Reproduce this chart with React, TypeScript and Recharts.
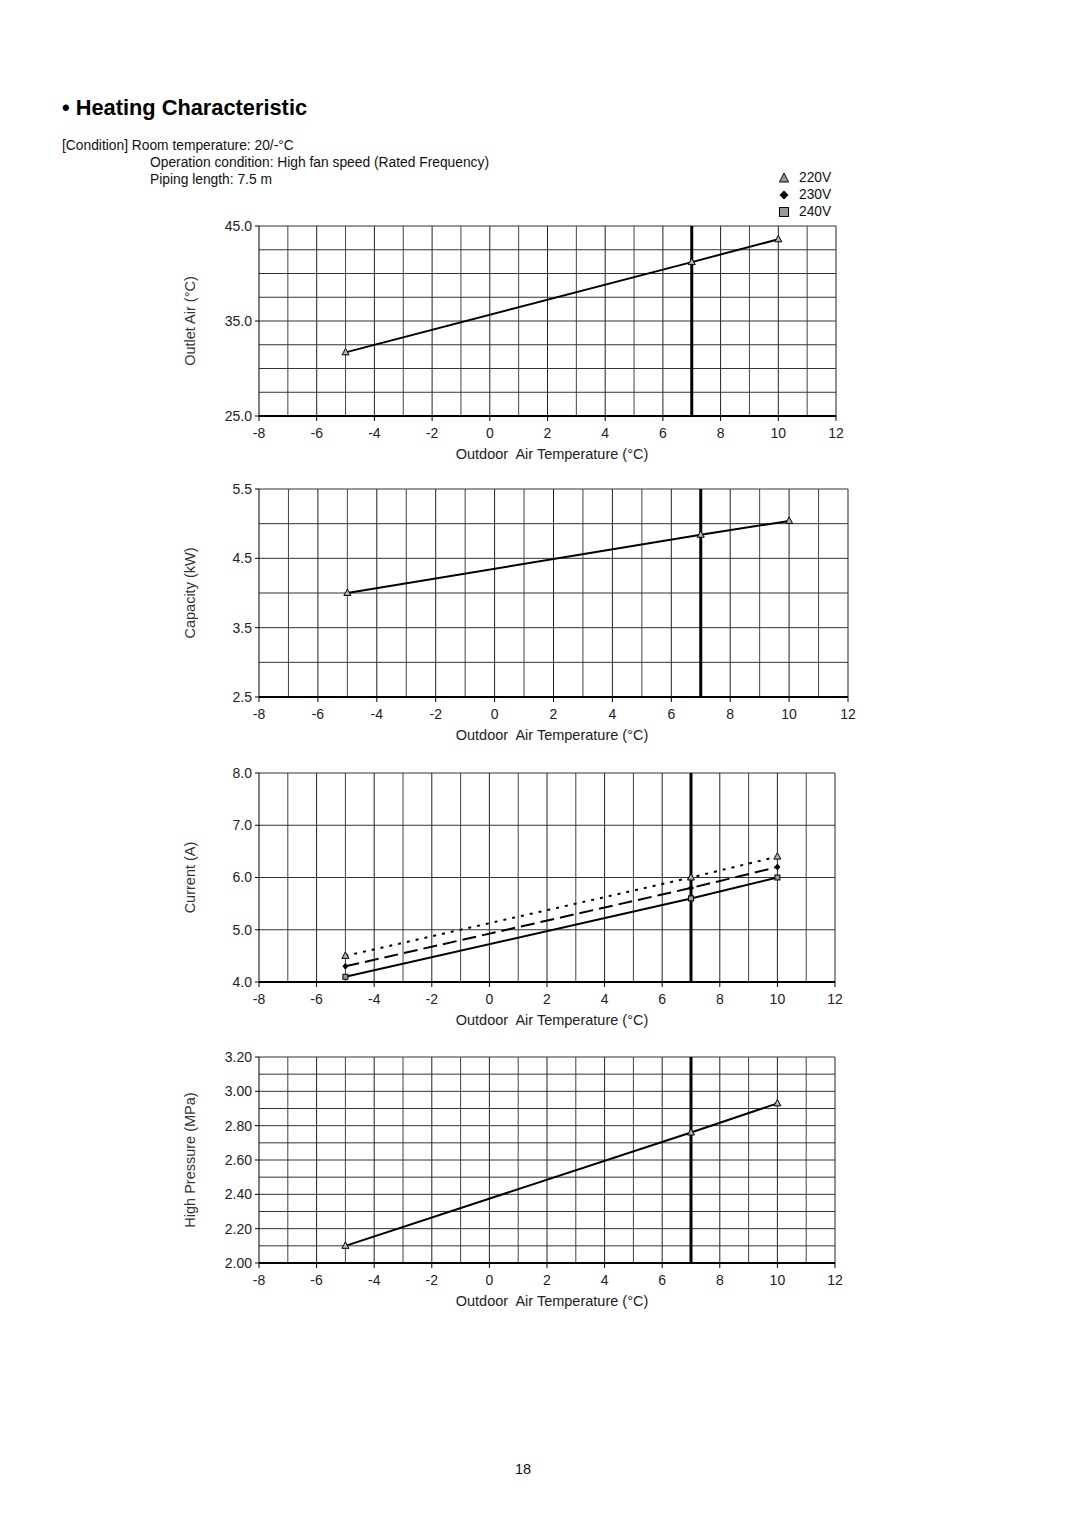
import { LineChart, Line, XAxis, YAxis, ReferenceLine } from 'recharts'

// outdoor air temperature (°C) of the measured points
const outdoorTemps = [-5, 7, 10]

// outlet air (°C)
const outletAir220 = [31.7, 41.2, 43.6]
// capacity (kW)
const capacity220 = [4.0, 4.84, 5.04]
// current (A)
const current220 = [4.5, 6.0, 6.4]
const current230 = [4.3, 5.8, 6.2]
const current240 = [4.1, 5.6, 6.0]
// high pressure (MPa)
const pressure220 = [2.1, 2.76, 2.93]

const xTicks = [-8, -6, -4, -2, 0, 2, 4, 6, 8, 10, 12]
const xGrid = [-7, -6, -5, -4, -3, -2, -1, 0, 1, 2, 3, 4, 5, 6, 8, 9, 10, 11, 12]

const outletTicks = [25, 35, 45]
const outletGrid = [27.5, 30, 32.5, 35, 37.5, 40, 42.5, 45]
const capacityTicks = [2.5, 3.5, 4.5, 5.5]
const capacityGrid = [3.0, 3.5, 4.0, 4.5, 5.0, 5.5]
const currentTicks = [4, 5, 6, 7, 8]
const currentGrid = [5, 6, 7, 8]
const pressureTicks = [2.0, 2.2, 2.4, 2.6, 2.8, 3.0, 3.2]
const pressureGrid = [2.1, 2.2, 2.3, 2.4, 2.5, 2.6, 2.7, 2.8, 2.9, 3.0, 3.1, 3.2]

const FONT = '"Liberation Sans", Arial, Helvetica, sans-serif'
const PLOT_LEFT = 259
const Y_AXIS_W = 80

const TriangleDot = (props: any) => {
  const { cx, cy } = props
  if (cx == null || cy == null) return <g />
  return (
    <path
      d={`M${cx},${cy - 4} L${cx + 3.5},${cy + 2.5} L${cx - 3.5},${cy + 2.5} Z`}
      fill="#b0b0b0"
      stroke="#000"
      strokeWidth={1}
    />
  )
}

const DiamondDot = (props: any) => {
  const { cx, cy } = props
  if (cx == null || cy == null) return <g />
  return <path d={`M${cx},${cy - 3.5} L${cx + 3},${cy} L${cx},${cy + 3.5} L${cx - 3},${cy} Z`} fill="#000" />
}

const SquareDot = (props: any) => {
  const { cx, cy } = props
  if (cx == null || cy == null) return <g />
  return <rect x={cx - 2.5} y={cy - 2.5} width={5} height={5} fill="#999" stroke="#000" strokeWidth={1} />
}

interface Series {
  key: string
  dash?: string
  dot: (p: any) => any
}

interface PanelProps {
  plotTop: number
  plotBottom: number
  plotRight: number
  yDomain: [number, number]
  yTicks: number[]
  yGrid: number[]
  yDigits: number
  yLabel: string
  rows: any[]
  series: Series[]
}

function Panel(p: PanelProps) {
  const width = Y_AXIS_W + (p.plotRight - PLOT_LEFT) + 20
  const height = 10 + (p.plotBottom - p.plotTop) + 46 + 8
  const tickStyle = { fontSize: 14, fill: '#222', fontFamily: FONT }
  // the axis title sits a little right of the plot centre in the original
  const labelShift = 552 - (PLOT_LEFT + p.plotRight) / 2

  return (
    <div style={{ position: 'absolute', left: PLOT_LEFT - Y_AXIS_W, top: p.plotTop - 10 }}>
      <LineChart
        width={width}
        height={height}
        data={p.rows}
        margin={{ top: 10, right: 20, left: 0, bottom: 8 }}
      >
        <XAxis
          type="number"
          dataKey="t"
          domain={[-8, 12]}
          ticks={xTicks}
          interval={0}
          height={46}
          tick={tickStyle}
          tickSize={5}
          tickMargin={7}
          axisLine={{ stroke: '#000', strokeWidth: 2 }}
          tickLine={{ stroke: '#000' }}
          label={{
            value: 'Outdoor\u00a0 Air Temperature (°C)',
            position: 'insideBottom',
            offset: 3,
            dx: labelShift,
            style: { fontSize: 14.5, fill: '#222', fontFamily: FONT },
          }}
        />
        <YAxis
          type="number"
          domain={p.yDomain}
          ticks={p.yTicks}
          interval={0}
          width={Y_AXIS_W}
          tick={tickStyle}
          tickSize={4}
          tickMargin={3}
          tickFormatter={(v) => Number(v).toFixed(p.yDigits)}
          axisLine={{ stroke: '#000', strokeWidth: 1 }}
          tickLine={{ stroke: '#000' }}
          label={{
            value: p.yLabel,
            angle: -90,
            position: 'insideLeft',
            offset: 11,
            style: { textAnchor: 'middle', fontSize: 14.5, fill: '#333', fontFamily: FONT },
          }}
        />
        {xGrid.map((v) => (
          <ReferenceLine key={'vx' + v} x={v} stroke={v % 2 === 0 ? '#222' : '#444'} strokeWidth={1} />
        ))}
        {p.yGrid.map((v) => (
          <ReferenceLine key={'hy' + v} y={v} stroke="#333" strokeWidth={1} />
        ))}
        <ReferenceLine x={7} stroke="#000" strokeWidth={3} />
        {p.series.map((s) => (
          <Line
            key={s.key}
            dataKey={s.key}
            type="linear"
            stroke="#000"
            strokeWidth={2}
            strokeDasharray={s.dash}
            dot={s.dot}
            activeDot={false}
            isAnimationActive={false}
          />
        ))}
      </LineChart>
    </div>
  )
}

const outletRows = outdoorTemps.map((t, i) => ({ t, v220: outletAir220[i] }))
const capacityRows = outdoorTemps.map((t, i) => ({ t, v220: capacity220[i] }))
const currentRows = outdoorTemps.map((t, i) => ({
  t,
  v220: current220[i],
  v230: current230[i],
  v240: current240[i],
}))
const pressureRows = outdoorTemps.map((t, i) => ({ t, v220: pressure220[i] }))

const txt = { position: 'absolute' as const, fontFamily: FONT, fontSize: 13.8, color: '#111', whiteSpace: 'pre' as const }

export default function App() {
  return (
    <div style={{ position: 'absolute', left: 0, top: 0, width: 1080, height: 1528, background: '#fff', fontFamily: FONT }}>
      <div style={{ ...txt, left: 62, top: 95, fontSize: 21.8, fontWeight: 'bold', color: '#000' }}>
        • Heating Characteristic
      </div>
      <div style={{ ...txt, left: 62, top: 138 }}>[Condition] Room temperature: 20/-°C</div>
      <div style={{ ...txt, left: 150, top: 155 }}>Operation condition: High fan speed (Rated Frequency)</div>
      <div style={{ ...txt, left: 150, top: 172 }}>Piping length: 7.5 m</div>

      {/* legend */}
      <svg style={{ position: 'absolute', left: 776, top: 171 }} width={16} height={50}>
        <path d="M8,2 L12.5,11 L3.5,11 Z" fill="#999" stroke="#000" strokeWidth={1} />
        <path d="M8,19.5 L12.5,24 L8,28.5 L3.5,24 Z" fill="#000" />
        <rect x={3.5} y={36.5} width={9} height={9} fill="#999" stroke="#000" strokeWidth={1} />
      </svg>
      <div style={{ ...txt, left: 799, top: 170 }}>220V</div>
      <div style={{ ...txt, left: 799, top: 187 }}>230V</div>
      <div style={{ ...txt, left: 799, top: 204 }}>240V</div>

      <Panel
        plotTop={226}
        plotBottom={416}
        plotRight={836}
        yDomain={[25, 45]}
        yTicks={outletTicks}
        yGrid={outletGrid}
        yDigits={1}
        yLabel="Outlet Air (°C)"
        rows={outletRows}
        series={[{ key: 'v220', dot: TriangleDot }]}
      />
      <Panel
        plotTop={489}
        plotBottom={697}
        plotRight={848}
        yDomain={[2.5, 5.5]}
        yTicks={capacityTicks}
        yGrid={capacityGrid}
        yDigits={1}
        yLabel="Capacity (kW)"
        rows={capacityRows}
        series={[{ key: 'v220', dot: TriangleDot }]}
      />
      <Panel
        plotTop={773}
        plotBottom={982}
        plotRight={835}
        yDomain={[4, 8]}
        yTicks={currentTicks}
        yGrid={currentGrid}
        yDigits={1}
        yLabel="Current (A)"
        rows={currentRows}
        series={[
          { key: 'v220', dash: '3 6', dot: TriangleDot },
          { key: 'v230', dash: '14 6', dot: DiamondDot },
          { key: 'v240', dot: SquareDot },
        ]}
      />
      <Panel
        plotTop={1057}
        plotBottom={1263}
        plotRight={835}
        yDomain={[2.0, 3.2]}
        yTicks={pressureTicks}
        yGrid={pressureGrid}
        yDigits={2}
        yLabel="High Pressure (MPa)"
        rows={pressureRows}
        series={[{ key: 'v220', dot: TriangleDot }]}
      />

      <div style={{ ...txt, left: 515, top: 1461, fontSize: 14.5 }}>18</div>
    </div>
  )
}
